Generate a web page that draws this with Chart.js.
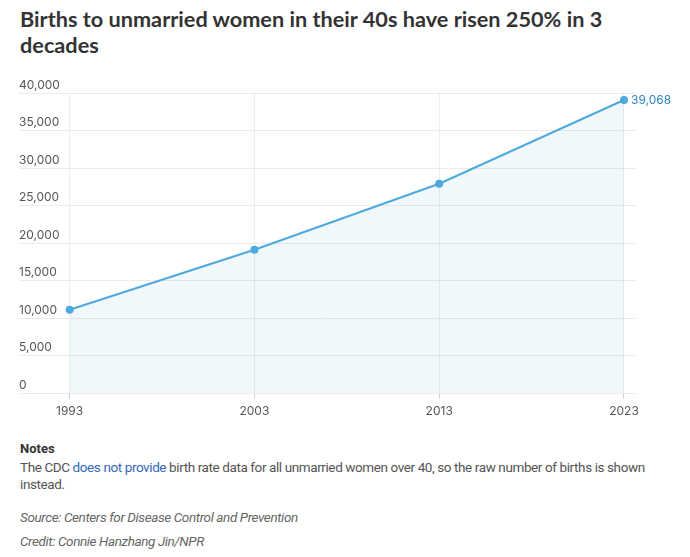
<!DOCTYPE html>
<html>
<head>
<meta charset="utf-8">
<script src="https://cdn.jsdelivr.net/npm/chart.js@4/dist/chart.umd.min.js"></script>
<style>
  body { margin: 0; background: #fff; width: 690px; height: 557px; overflow: hidden; }
  h1 { position: absolute; left: 20px; top: 6px; width: 630px; margin: 0;
       font: bold 21.7px/26px Lato, "Noto Sans", sans-serif; color: #333; }
  #wrap { position: absolute; left: 0; top: 70px; width: 690px; height: 360px; }
  .notes { position: absolute; left: 20px; top: 441px; width: 660px;
           font-family: "Roboto", sans-serif; color: #555; font-size: 13.5px; letter-spacing: -0.4px; }
  .notes b { display: block; color: #333; font-size: 13px; margin-bottom: 3px; letter-spacing: 0; }
  .notes p { margin: 0; line-height: 17px; }
  .notes a { color: #3467b8; text-decoration: none; }
  .notes .src { font-style: italic; color: #666; }
</style>
</head>
<body>
<h1>Births to unmarried women in their 40s have risen 250% in 3 decades</h1>
<div id="wrap"><canvas id="chart"></canvas></div>
<div class="notes">
  <b>Notes</b>
  <p>The CDC <a href="#">does not provide</a> birth rate data for all unmarried women over 40, so the raw number of births is shown instead.</p>
  <p class="src" style="margin-top:16px">Source: Centers for Disease Control and Prevention</p>
  <p class="src" style="margin-top:7px">Credit: Connie Hanzhang Jin/NPR</p>
</div>
<script>
const years = [1993, 2003, 2013, 2023];
const births = [11100, 19100, 27900, 39068];
const yTicks = [0, 5000, 10000, 15000, 20000, 25000, 30000, 35000, 40000];

const lineColor = '#4ea9dd';
const tickFont = { family: 'Inter, Roboto, sans-serif', size: 12 };

// label for the last point
const lastLabel = {
  id: 'lastLabel',
  afterDatasetsDraw(chart) {
    const pt = chart.getDatasetMeta(0).data[births.length - 1];
    const c = chart.ctx;
    c.save();
    c.font = '12px Inter, Roboto, sans-serif';
    c.fillStyle = '#2c87c2';
    c.textBaseline = 'middle';
    c.fillText(births[births.length - 1].toLocaleString('en-US'), pt.x + 7, pt.y);
    c.restore();
  }
};

new Chart(document.getElementById('chart'), {
  type: 'line',
  data: {
    datasets: [{
      data: years.map((y, i) => ({ x: y, y: births[i] })),
      borderColor: lineColor,
      backgroundColor: 'rgba(78,169,221,0.08)',
      fill: 'origin',
      borderWidth: 2,
      pointRadius: 4,
      pointBackgroundColor: lineColor,
      pointBorderWidth: 0,
      tension: 0
    }]
  },
  options: {
    responsive: true,
    maintainAspectRatio: false,
    animation: false,
    layout: { padding: { left: 19, right: 54, top: 23, bottom: 0 } },
    plugins: { legend: { display: false }, tooltip: { enabled: false } },
    scales: {
      x: {
        type: 'linear',
        min: 1990.26,
        max: 2023.65,
        afterBuildTicks: s => { s.ticks = years.map(v => ({ value: v })); },
        afterFit: s => { s.height = 37; },
        grid: { color: '#ececec', tickColor: '#cfcfcf', tickLength: 6 },
        border: { display: false },
        ticks: { font: tickFont, color: '#555', padding: 5, callback: v => String(v) }
      },
      y: {
        min: 0,
        max: 40000,
        afterBuildTicks: s => { s.ticks = yTicks.map(v => ({ value: v })); },
        afterFit: s => { s.width = 0; },
        grid: { color: '#ebebeb', drawTicks: false },
        border: { display: false },
        ticks: {
          mirror: true, padding: 0, labelOffset: -8,
          font: tickFont, color: '#555',
          callback: v => v.toLocaleString('en-US')
        }
      }
    }
  },
  plugins: [lastLabel]
});
</script>
</body>
</html>
